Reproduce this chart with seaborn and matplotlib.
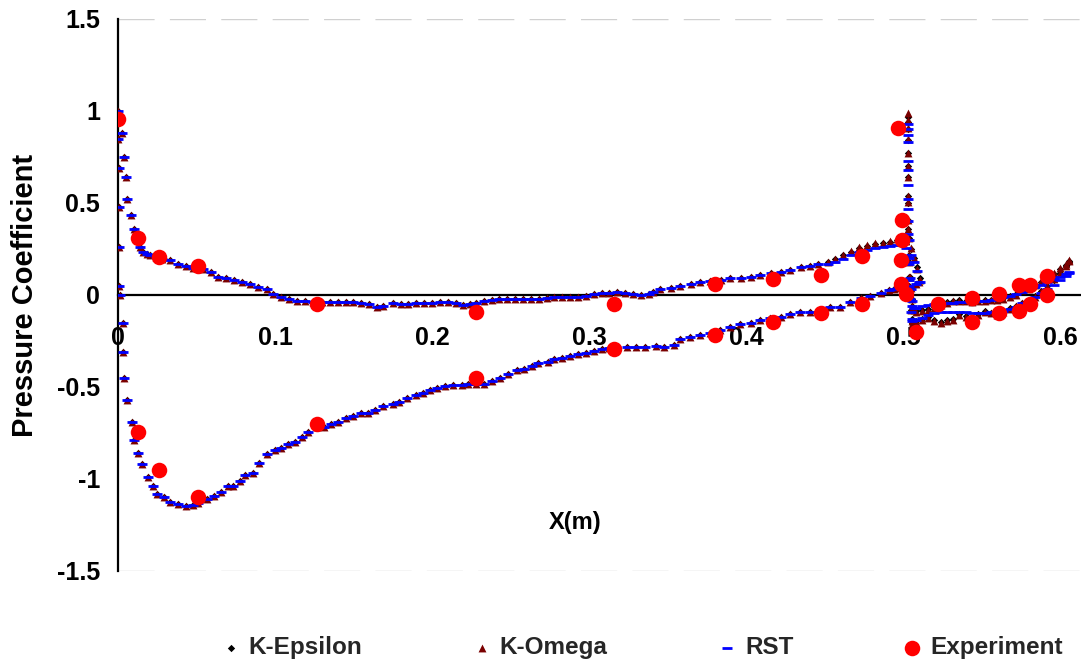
# -*- coding: utf-8 -*-
# pressure coefficient distribution: CFD turbulence models vs experiment

import matplotlib.pyplot as plt
import pandas as pd
import seaborn as sns
from matplotlib.ticker import FuncFormatter

# ---------------------------------------------------------------
# data
# ---------------------------------------------------------------
# main element, branch with positive Cp (shared by the three models)
x_top = [0.0, 0.0027, 0.0037, 0.0048, 0.0059, 0.008, 0.010, 0.0125, 0.0143, 0.0162,
         0.0185, 0.0207, 0.024, 0.028, 0.0334, 0.0385, 0.0436, 0.048, 0.054, 0.059,
         0.064, 0.069, 0.074, 0.079, 0.084, 0.089, 0.0946, 0.099, 0.104, 0.109,
         0.114, 0.119, 0.1245, 0.130, 0.135, 0.140, 0.145, 0.150, 0.155, 0.160,
         0.165, 0.169, 0.175, 0.180, 0.185, 0.190, 0.195, 0.200, 0.205, 0.210,
         0.215, 0.220, 0.224, 0.228, 0.233, 0.238, 0.243, 0.248, 0.253, 0.258,
         0.263, 0.268, 0.273, 0.278, 0.283, 0.288, 0.293, 0.298, 0.303, 0.308,
         0.313, 0.318, 0.323, 0.328, 0.333, 0.338, 0.341, 0.345, 0.352, 0.358,
         0.365, 0.371, 0.377, 0.384, 0.390, 0.397, 0.403, 0.409, 0.416, 0.422,
         0.428, 0.435, 0.441, 0.446]
cp_top = [1.00, 0.88, 0.75, 0.64, 0.52, 0.435, 0.36, 0.31, 0.26, 0.235,
          0.225, 0.215, 0.205, 0.198, 0.19, 0.17, 0.16, 0.145, 0.14, 0.125,
          0.10, 0.09, 0.08, 0.07, 0.06, 0.045, 0.03, 0.005, -0.01, -0.02,
          -0.03, -0.035, -0.04, -0.04, -0.04, -0.04, -0.04, -0.04, -0.045, -0.05,
          -0.065, -0.06, -0.045, -0.05, -0.05, -0.045, -0.045, -0.045, -0.04, -0.04,
          -0.045, -0.055, -0.05, -0.045, -0.03, -0.025, -0.02, -0.02, -0.02, -0.02,
          -0.02, -0.02, -0.015, -0.012, -0.012, -0.012, -0.01, -0.005, 0.005, 0.01,
          0.012, 0.015, 0.01, 0.005, 0.0, 0.005, 0.015, 0.03, 0.04, 0.05,
          0.06, 0.07, 0.075, 0.08, 0.09, 0.095, 0.10, 0.11, 0.12, 0.125,
          0.135, 0.15, 0.16, 0.17]

# main element, positive branch near the trailing edge (per model)
x_top_te = [0.452, 0.457, 0.462, 0.467, 0.472, 0.477, 0.482, 0.487,
            0.492, 0.496, 0.499, 0.502, 0.505, 0.507, 0.509, 0.511]
cp_top_te_ke = [0.18, 0.195, 0.215, 0.235, 0.255, 0.265, 0.275, 0.28,
                0.29, 0.30, 0.305, 0.29, 0.25, 0.20, 0.15, 0.09]
cp_top_te_kw = [0.18, 0.195, 0.215, 0.24, 0.26, 0.27, 0.28, 0.285,
                0.295, 0.305, 0.31, 0.295, 0.255, 0.20, 0.14, 0.08]
cp_top_te_rst = [0.17, 0.18, 0.195, 0.215, 0.235, 0.245, 0.255, 0.26,
                 0.265, 0.27, 0.27, 0.255, 0.22, 0.18, 0.13, 0.07]

# main element, branch with negative Cp (shared by the three models)
x_bot = [0.0003, 0.0004, 0.0005, 0.0006, 0.0008, 0.001, 0.003, 0.0035, 0.004, 0.006,
         0.0086, 0.010, 0.013, 0.0156, 0.0188, 0.022, 0.025, 0.029, 0.0334, 0.0379,
         0.043, 0.0475, 0.051, 0.057, 0.061, 0.0653, 0.070, 0.073, 0.0774, 0.081,
         0.0857, 0.090, 0.095, 0.0997, 0.104, 0.1086, 0.113, 0.1175, 0.121, 0.127,
         0.131, 0.1354, 0.140, 0.145, 0.150, 0.1545, 0.159, 0.164, 0.169, 0.175,
         0.179, 0.184, 0.1895, 0.194, 0.199, 0.2035, 0.2086, 0.2137, 0.219, 0.2232,
         0.228, 0.233, 0.2385, 0.2436, 0.2487, 0.254, 0.2583, 0.2634, 0.2678, 0.2736,
         0.278, 0.283, 0.288, 0.293, 0.2984, 0.303, 0.3086, 0.313, 0.3175, 0.324,
         0.330, 0.336, 0.343, 0.3475, 0.354, 0.358, 0.3646, 0.371, 0.377, 0.3837,
         0.390, 0.3965, 0.403, 0.409, 0.4156, 0.422, 0.4283, 0.4347, 0.441, 0.4474,
         0.4538, 0.460, 0.4665, 0.473, 0.479, 0.4857, 0.4908, 0.494, 0.497, 0.500,
         0.504, 0.508, 0.510]
cp_bot = [0.85, 0.69, 0.48, 0.26, 0.05, 0.0, -0.15, -0.31, -0.45, -0.57,
          -0.69, -0.79, -0.86, -0.92, -0.99, -1.04, -1.08, -1.10, -1.125, -1.135,
          -1.147, -1.14, -1.13, -1.11, -1.09, -1.07, -1.04, -1.04, -1.01, -0.98,
          -0.97, -0.915, -0.865, -0.84, -0.83, -0.81, -0.80, -0.77, -0.745, -0.715,
          -0.715, -0.70, -0.69, -0.67, -0.66, -0.64, -0.64, -0.625, -0.605, -0.59,
          -0.58, -0.56, -0.545, -0.535, -0.515, -0.505, -0.495, -0.49, -0.49, -0.485,
          -0.485, -0.485, -0.47, -0.45, -0.43, -0.41, -0.40, -0.385, -0.37, -0.365,
          -0.35, -0.34, -0.33, -0.32, -0.315, -0.305, -0.295, -0.29, -0.28, -0.28,
          -0.28, -0.28, -0.275, -0.28, -0.27, -0.24, -0.23, -0.22, -0.205, -0.19,
          -0.175, -0.16, -0.15, -0.135, -0.125, -0.12, -0.105, -0.095, -0.09, -0.08,
          -0.067, -0.065, -0.04, -0.018, -0.005, 0.01, 0.025, 0.035, 0.04, 0.045,
          0.05, 0.06, 0.07]

# flap leading edge, two branches leaving the stagnation point
x_flap_le_a = [0.5029, 0.5030, 0.5031, 0.5032, 0.5033, 0.5035, 0.5037,
               0.5040, 0.5045, 0.5050, 0.5055, 0.5060, 0.5070]
cp_le_a_ke = [0.97, 0.90, 0.77, 0.64, 0.50, 0.36, 0.22, 0.10, 0.0, -0.08, -0.13, -0.15, -0.14]
cp_le_a_kw = [0.99, 0.91, 0.77, 0.64, 0.505, 0.36, 0.22, 0.10, 0.0, -0.08, -0.14, -0.16, -0.15]
cp_le_a_rst = [0.93, 0.87, 0.73, 0.60, 0.47, 0.33, 0.20, 0.08, -0.02, -0.09, -0.13, -0.14, -0.135]
x_flap_le_b = [0.5029, 0.5030, 0.5031, 0.5032, 0.5034, 0.5036,
               0.5040, 0.5045, 0.5050, 0.5055, 0.5060, 0.5070]
cp_le_b_ke = [0.94, 0.84, 0.70, 0.54, 0.41, 0.31, 0.18, 0.10, 0.04, -0.02, -0.06, -0.08]
cp_le_b_kw = [0.95, 0.85, 0.70, 0.54, 0.41, 0.31, 0.18, 0.10, 0.04, -0.02, -0.06, -0.08]
cp_le_b_rst = [0.90, 0.83, 0.68, 0.52, 0.40, 0.30, 0.17, 0.09, 0.03, -0.03, -0.06, -0.07]

# flap body, two surfaces per model
x_flap = [0.508, 0.512, 0.516, 0.520, 0.524, 0.528, 0.532, 0.536, 0.540, 0.544,
          0.548, 0.552, 0.556, 0.560, 0.564, 0.568, 0.572, 0.576, 0.580, 0.584,
          0.588, 0.592, 0.596, 0.600, 0.604, 0.606]
cp_flap_up_ke = [-0.085, -0.08, -0.075, -0.065, -0.05, -0.04, -0.03, -0.028, -0.032, -0.038,
                 -0.033, -0.028, -0.025, -0.022, -0.017, -0.008, 0.003, 0.022, 0.035, 0.053,
                 0.072, 0.095, 0.115, 0.14, 0.165, 0.185]
cp_flap_lo_ke = [-0.14, -0.13, -0.12, -0.135, -0.145, -0.135, -0.13, -0.105, -0.115, -0.13,
                 -0.105, -0.088, -0.098, -0.105, -0.09, -0.072, -0.058, -0.043, -0.032, -0.008,
                 0.022, 0.05, 0.083, 0.118, 0.155, 0.18]
cp_flap_up_kw = [-0.09, -0.085, -0.08, -0.07, -0.055, -0.045, -0.035, -0.03, -0.035, -0.04,
                 -0.035, -0.03, -0.028, -0.025, -0.02, -0.01, 0.0, 0.025, 0.035, 0.055,
                 0.075, 0.10, 0.12, 0.145, 0.17, 0.19]
cp_flap_lo_kw = [-0.145, -0.135, -0.125, -0.14, -0.15, -0.14, -0.135, -0.11, -0.12, -0.135,
                 -0.11, -0.09, -0.1, -0.11, -0.095, -0.075, -0.06, -0.045, -0.035, -0.01,
                 0.02, 0.05, 0.085, 0.12, 0.16, 0.185]
cp_flap_up_rst = [-0.07, -0.06, -0.055, -0.05, -0.048, -0.045, -0.043, -0.04, -0.04, -0.037,
                  -0.033, -0.03, -0.025, -0.02, -0.013, -0.005, 0.005, 0.018, 0.03, 0.042,
                  0.055, 0.07, 0.085, 0.10, 0.115, 0.125]
cp_flap_lo_rst = [-0.135, -0.125, -0.11, -0.10, -0.095, -0.09, -0.09, -0.09, -0.092, -0.097,
                  -0.10, -0.098, -0.093, -0.09, -0.085, -0.075, -0.065, -0.045, -0.03, -0.01,
                  0.01, 0.03, 0.055, 0.08, 0.105, 0.12]

# experiment
exp_x = [0.0, 0.013, 0.026, 0.051, 0.127, 0.228, 0.316, 0.38, 0.4175, 0.4475, 0.474,
         0.497, 0.4997, 0.4997, 0.499, 0.499, 0.502, 0.508,
         0.5226, 0.544, 0.544, 0.561, 0.561, 0.5736, 0.5736, 0.581, 0.581, 0.5915, 0.5915,
         0.013, 0.026, 0.051, 0.127, 0.228, 0.316, 0.38, 0.4175, 0.4475, 0.474]
exp_cp = [0.955, 0.31, 0.205, 0.155, -0.05, -0.09, -0.05, 0.06, 0.087, 0.11, 0.21,
          0.91, 0.41, 0.30, 0.19, 0.06, 0.005, -0.2,
          -0.05, -0.015, -0.145, 0.005, -0.1, 0.055, -0.085, 0.055, -0.05, 0.105, 0.0,
          -0.745, -0.95, -1.10, -0.70, -0.45, -0.295, -0.22, -0.147, -0.10, -0.05]

x_ticks = [0.0, 0.1, 0.2, 0.3, 0.4, 0.5, 0.6]
y_ticks = [-1.5, -1.0, -0.5, 0.0, 0.5, 1.0, 1.5]


def model_frame(parts):
    xs, ys = [], []
    for x, y in parts:
        xs += x
        ys += y
    return pd.DataFrame({"x": xs, "cp": ys})


df_ke = model_frame([(x_top, cp_top), (x_top_te, cp_top_te_ke), (x_bot, cp_bot),
                     (x_flap_le_a, cp_le_a_ke), (x_flap_le_b, cp_le_b_ke),
                     (x_flap, cp_flap_up_ke), (x_flap, cp_flap_lo_ke)])
df_kw = model_frame([(x_top, cp_top), (x_top_te, cp_top_te_kw), (x_bot, cp_bot),
                     (x_flap_le_a, cp_le_a_kw), (x_flap_le_b, cp_le_b_kw),
                     (x_flap, cp_flap_up_kw), (x_flap, cp_flap_lo_kw)])
df_rst = model_frame([(x_top, cp_top), (x_top_te, cp_top_te_rst), (x_bot, cp_bot),
                      (x_flap_le_a, cp_le_a_rst), (x_flap_le_b, cp_le_b_rst),
                      (x_flap, cp_flap_up_rst), (x_flap, cp_flap_lo_rst)])
df_exp = pd.DataFrame({"x": exp_x, "cp": exp_cp})

# ---------------------------------------------------------------
# style
# ---------------------------------------------------------------
sns.set_theme(style="white")
plt.rcParams["font.family"] = ["Liberation Sans", "DejaVu Sans"]
plt.rcParams["font.weight"] = "bold"
tick_size = 18
legend_size = 17.5

fig = plt.figure(figsize=(10.81, 6.63), dpi=100, facecolor="w")
ax = fig.add_axes([118 / 1081, 1 - 571 / 663, 963 / 1081, 552 / 663])

sns.scatterplot(data=df_ke, x="x", y="cp", marker="D", s=14, color="black",
                edgecolor="black", linewidth=0, label="K-Epsilon", ax=ax, zorder=3)
sns.scatterplot(data=df_kw, x="x", y="cp", marker="^", s=32, color="#7a0000",
                edgecolor="#7a0000", linewidth=0, label="K-Omega", ax=ax, zorder=4)
sns.scatterplot(data=df_rst, x="x", y="cp", marker="_", s=60, color="#0000ff",
                linewidth=2, label="RST", ax=ax, zorder=5)
sns.scatterplot(data=df_exp, x="x", y="cp", marker="o", s=125, color="#ff0000",
                edgecolor="#ff0000", linewidth=0, label="Experiment", ax=ax, zorder=6)

# dashed border lines at the y limits
for yv in (1.5, -1.5):
    ax.axhline(yv, color="#d0d0d0", lw=1, ls=(0, (26, 11)), zorder=1)

ax.set_xlim(0, 0.6134)
ax.set_ylim(-1.5, 1.5)
ax.set_xticks(x_ticks)
ax.set_yticks(y_ticks)
fmt = FuncFormatter(lambda v, pos: f"{v:g}")
ax.xaxis.set_major_formatter(fmt)
ax.yaxis.set_major_formatter(fmt)

for side in ("top", "right"):
    ax.spines[side].set_visible(False)
ax.spines["bottom"].set_position(("data", 0))
for side in ("left", "bottom"):
    ax.spines[side].set_color("black")
    ax.spines[side].set_linewidth(1.6)
    ax.spines[side].set_zorder(2)

ax.tick_params(axis="x", direction="in", length=5, width=1.5, pad=22,
               labelsize=tick_size, colors="black")
ax.tick_params(axis="y", direction="in", length=5, width=1.5, pad=13,
               labelsize=tick_size, colors="black")

ax.set_xlabel("X(m)", fontsize=17, fontweight="bold", color="black")
ax.xaxis.set_label_coords(0.4745, 0.109)
ax.set_ylabel("Pressure Coefficient", fontsize=21, fontweight="bold", color="black")
ax.yaxis.set_label_coords(-0.082, 0.5)

ax.legend(loc="center", bbox_to_anchor=(0.5454, -0.139), ncol=4, frameon=False,
          fontsize=legend_size, columnspacing=4.6, handletextpad=0.45,
          handlelength=0.6)

fig.savefig("out.png", dpi=100, facecolor="w")
